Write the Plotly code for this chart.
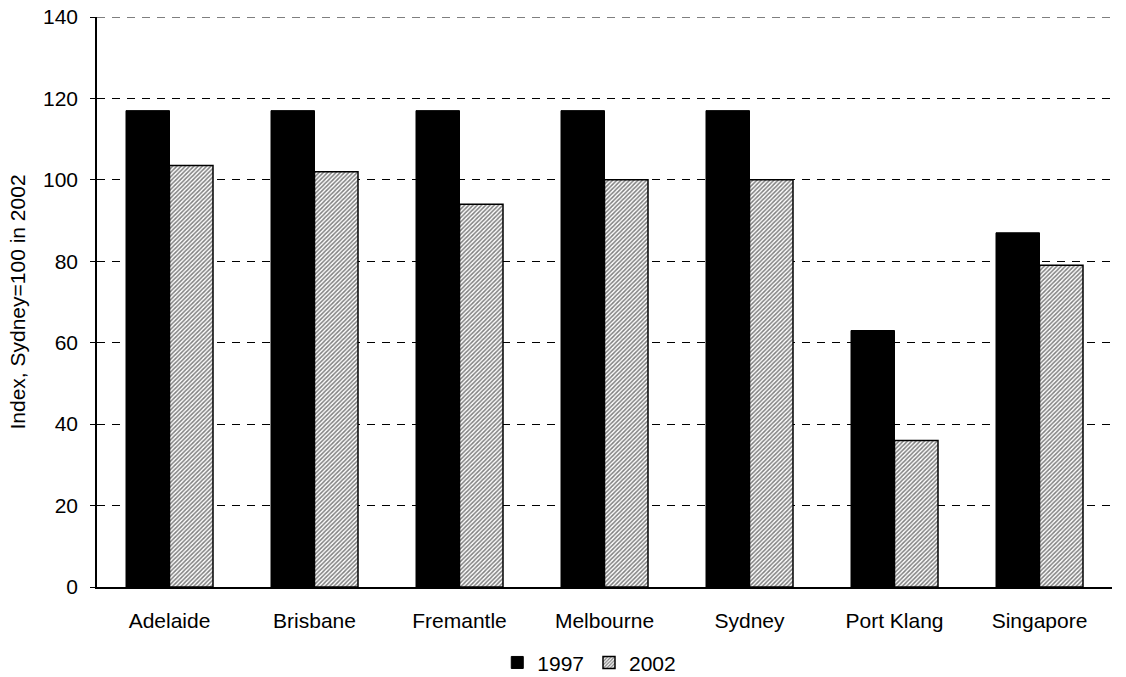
import plotly.graph_objects as go

categories = ["Adelaide", "Brisbane", "Fremantle", "Melbourne", "Sydney", "Port Klang", "Singapore"]
values_1997 = [117, 117, 117, 117, 117, 63, 87]
values_2002 = [103.5, 102, 94, 100, 100, 36, 79]

FONT = "Liberation Sans, Arial, sans-serif"
FS = 21

fig = go.Figure()
fig.add_trace(go.Bar(
    x=categories, y=values_1997, name="1997",
    marker=dict(color="black", line=dict(color="black", width=1)),
))
fig.add_trace(go.Bar(
    x=categories, y=values_2002, name="2002",
    marker=dict(color="white", line=dict(color="black", width=1.5),
                pattern=dict(shape="/", fgcolor="black", bgcolor="white", size=3, solidity=0.5)),
))

fig.add_shape(type="line", xref="paper", yref="y", x0=0, x1=1, y0=140, y1=140,
              line=dict(color="black", width=1, dash="8px,7px"), layer="below")

fig.update_layout(
    width=1126, height=677,
    margin=dict(l=97, r=14, t=17, b=90, autoexpand=False),
    plot_bgcolor="white", paper_bgcolor="white",
    barmode="group", bargap=0.4, bargroupgap=0,
    font=dict(family=FONT, size=FS, color="black"),
    showlegend=True,
    legend=dict(orientation="h", x=0.485, xanchor="center", y=-0.133, yanchor="middle",
                font=dict(size=FS), itemwidth=30, traceorder="normal", tracegroupgap=0),
)
fig.update_xaxes(showline=True, linecolor="black", linewidth=1.5, ticks="", showgrid=False,
                 tickfont=dict(size=FS), automargin=False, ticklabelstandoff=14)
fig.update_yaxes(range=[0, 140], dtick=20, showline=True, linecolor="black", linewidth=1.5,
                 ticks="outside", ticklen=5, tickcolor="black",
                 showgrid=True, gridcolor="black", griddash="8px,7px", gridwidth=1,
                 zeroline=False, automargin=False, ticklabelstandoff=8,
                 title=dict(text="Index, Sydney=100 in 2002", font=dict(size=FS), standoff=12),
                 tickfont=dict(size=FS))

fig.write_html("out.html", config={"displayModeBar": False},
               post_script="document.body.style.margin='0';document.body.style.overflow='hidden';")
